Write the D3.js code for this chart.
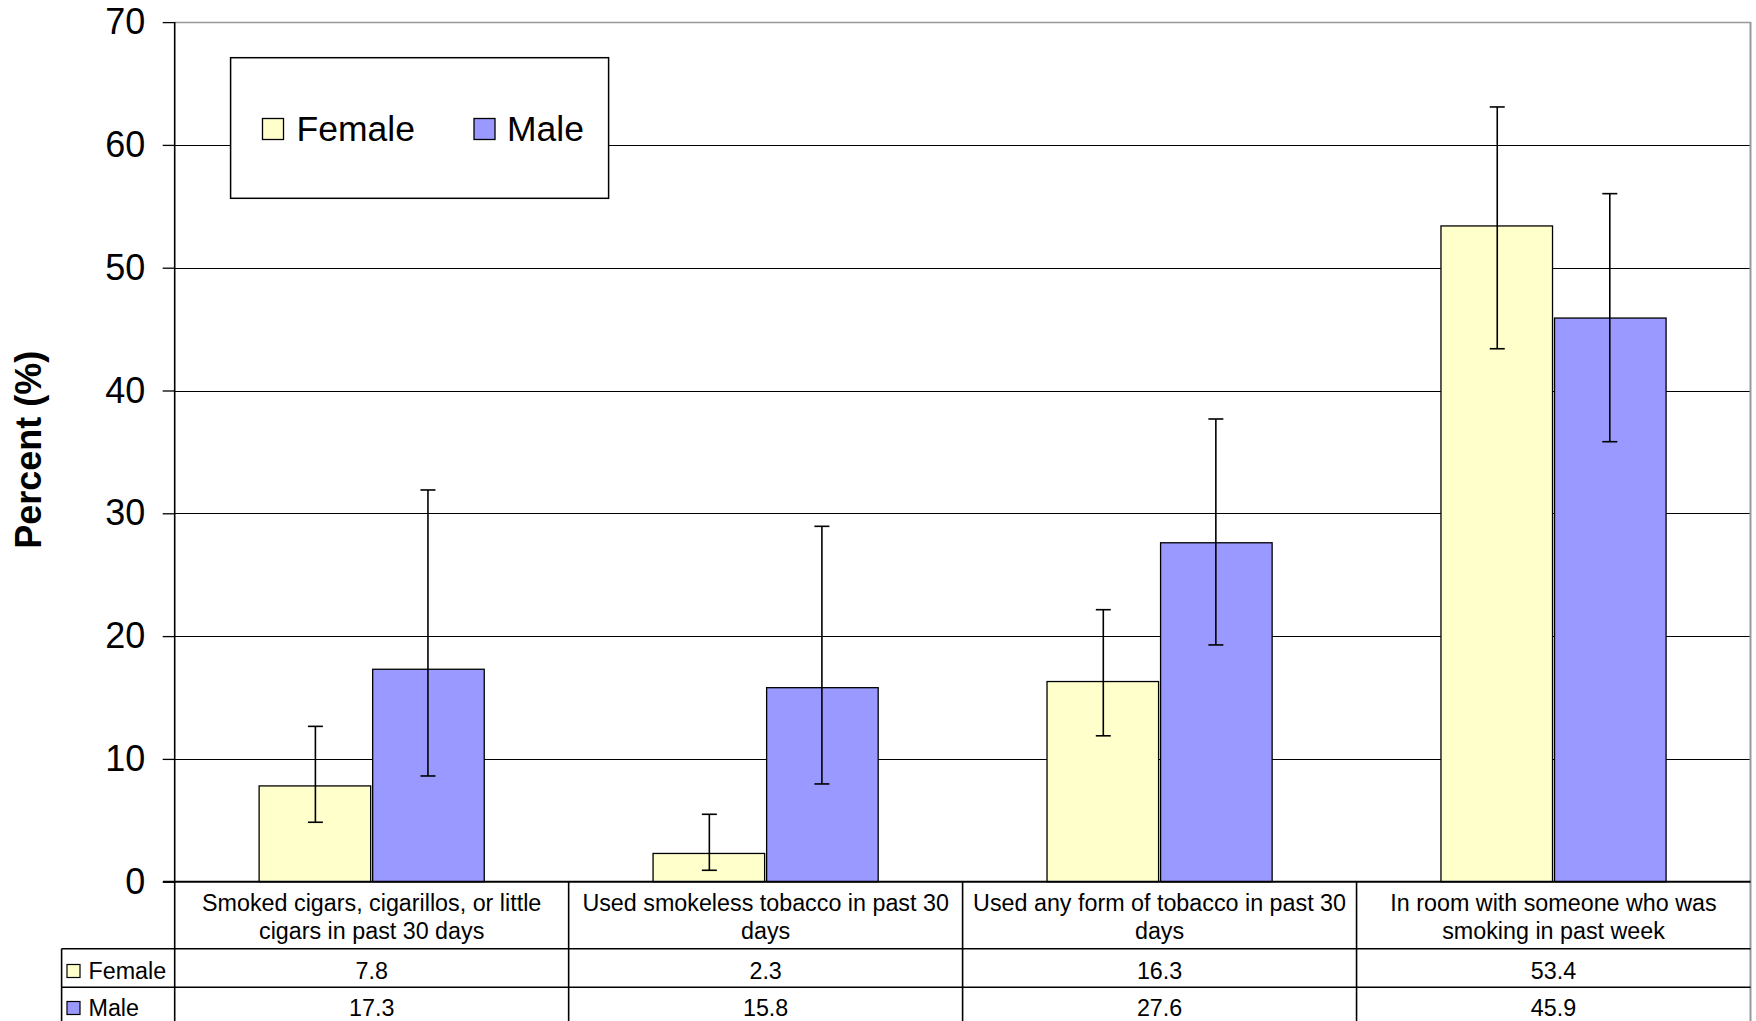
<!DOCTYPE html>
<html>
<head>
<meta charset="utf-8">
<script src="https://cdn.jsdelivr.net/npm/d3@7"></script>
<style>
  html, body { margin: 0; padding: 0; background: #fff; }
  svg { display: block; }
  text { font-family: "Liberation Sans", Arial, sans-serif; fill: #000; }
</style>
</head>
<body>
<svg id="chart" width="1756" height="1021"></svg>
<script>
// ---------- data ----------
const categories = [
  "Smoked cigars, cigarillos, or little cigars in past 30 days",
  "Used smokeless tobacco in past 30 days",
  "Used any form of tobacco in past 30 days",
  "In room with someone who was smoking in past week"
];
const categoryLines = [
  ["Smoked cigars, cigarillos, or little", "cigars in past 30 days"],
  ["Used smokeless tobacco in past 30", "days"],
  ["Used any form of tobacco in past 30", "days"],
  ["In room with someone who was", "smoking in past week"]
];
const seriesNames = ["Female", "Male"];
const femaleValues = [7.8, 2.3, 16.3, 53.4];
const maleValues = [17.3, 15.8, 27.6, 45.9];
const femaleUpper = [12.65, 5.49, 22.15, 63.09];
const femaleLower = [4.84, 0.93, 11.88, 43.4];
const maleUpper = [31.9, 28.94, 37.68, 56.03];
const maleLower = [8.61, 7.96, 19.28, 35.83];
const yTicks = [0, 10, 20, 30, 40, 50, 60, 70];
const yTitle = "Percent (%)";

// ---------- layout ----------
const colors = { Female: "#FFFFCC", Male: "#9999FF" };
const plotLeft = 174.7, plotRight = 1750.5, plotTop = 22.1, plotBottom = 881.7;
const tableLeft = 61.6;
const labelRowBottom = 948.7, femaleRowBottom = 987.3, maleRowBottom = 1026;

const svg = d3.select("#chart");

const y = d3.scaleLinear().domain([0, 70]).range([plotBottom, plotTop]);
const x0 = d3.scaleBand().domain(categories).range([plotLeft, plotRight]).padding(0);
const barW = x0.bandwidth() / 3.5;
const x1 = d3.scaleBand().domain(seriesNames).range([0, 2 * barW]).padding(0);

const rows = categories.map((c, i) => ({
  cat: c, i,
  vals: [
    { s: "Female", v: femaleValues[i], lo: femaleLower[i], hi: femaleUpper[i] },
    { s: "Male", v: maleValues[i], lo: maleLower[i], hi: maleUpper[i] }
  ]
}));

// gridlines
svg.append("g").selectAll("line")
  .data(yTicks.filter(t => t > 0))
  .join("line")
  .attr("x1", plotLeft).attr("x2", plotRight)
  .attr("y1", d => Math.round(y(d)) + 0.5).attr("y2", d => Math.round(y(d)) + 0.5)
  .attr("stroke", d => d === 70 ? "#999" : "#000")
  .attr("stroke-width", d => d === 70 ? 1.5 : 1.2);

// right border of plot + table
svg.append("line")
  .attr("x1", plotRight).attr("x2", plotRight)
  .attr("y1", plotTop).attr("y2", 1021)
  .attr("stroke", "#999").attr("stroke-width", 2);

// bars
const gCat = svg.append("g").selectAll("g")
  .data(rows).join("g")
  .attr("transform", d => `translate(${x0(d.cat) + x0.bandwidth() / 2 - barW},0)`);

gCat.selectAll("rect")
  .data(d => d.vals).join("rect")
  .attr("x", d => x1(d.s) + (d.s === "Female" ? 0 : 1))
  .attr("width", barW - 1)
  .attr("y", d => y(d.v))
  .attr("height", d => y(0) - y(d.v))
  .attr("fill", d => colors[d.s])
  .attr("stroke", "#000").attr("stroke-width", 1.3);

// error bars
const eb = gCat.selectAll("g.eb")
  .data(d => d.vals).join("g").attr("class", "eb")
  .attr("transform", d => `translate(${x1(d.s) + barW / 2},0)`);
eb.append("line").attr("x1", 0).attr("x2", 0)
  .attr("y1", d => y(d.hi)).attr("y2", d => y(d.lo))
  .attr("stroke", "#000").attr("stroke-width", 1.6);
eb.append("line").attr("x1", -7.5).attr("x2", 7.5)
  .attr("y1", d => y(d.hi)).attr("y2", d => y(d.hi))
  .attr("stroke", "#000").attr("stroke-width", 1.6);
eb.append("line").attr("x1", -7.5).attr("x2", 7.5)
  .attr("y1", d => y(d.lo)).attr("y2", d => y(d.lo))
  .attr("stroke", "#000").attr("stroke-width", 1.6);

// y axis
const yAxis = svg.append("g")
  .attr("transform", `translate(${plotLeft},0)`)
  .call(d3.axisLeft(y).tickValues(yTicks).tickSize(12).tickPadding(17.5).tickFormat(d3.format("d")));
yAxis.select(".domain").attr("stroke", "#000").attr("stroke-width", 1.6)
  .attr("d", `M0,${plotTop}V${plotBottom}`);
yAxis.selectAll(".tick line").attr("stroke", "#000").attr("stroke-width", 1.3);
yAxis.selectAll(".tick text")
  .style("font-family", "'Liberation Sans', Arial, sans-serif")
  .style("font-size", "36px").attr("fill", "#000");

// y title
svg.append("text")
  .attr("transform", `translate(41,449.7) rotate(-90)`)
  .attr("text-anchor", "middle")
  .style("font-size", "36px").style("font-weight", "bold")
  .text(yTitle);

// ---------- data table ----------
const tbl = svg.append("g");
const lineCol = "#000";
tbl.append("line").attr("x1", 163).attr("x2", plotRight)
  .attr("y1", plotBottom).attr("y2", plotBottom)
  .attr("stroke", lineCol).attr("stroke-width", 2);
[labelRowBottom, femaleRowBottom].forEach(yy => {
  tbl.append("line").attr("x1", tableLeft).attr("x2", plotRight)
    .attr("y1", yy).attr("y2", yy).attr("stroke", lineCol).attr("stroke-width", 1.6);
});
tbl.append("line").attr("x1", tableLeft).attr("x2", tableLeft)
  .attr("y1", labelRowBottom).attr("y2", 1021).attr("stroke", lineCol).attr("stroke-width", 1.6);
tbl.append("line").attr("x1", plotLeft).attr("x2", plotLeft)
  .attr("y1", plotBottom).attr("y2", 1021).attr("stroke", lineCol).attr("stroke-width", 1.6);
tbl.selectAll("line.div").data(categories.slice(1)).join("line").attr("class", "div")
  .attr("x1", d => x0(d)).attr("x2", d => x0(d))
  .attr("y1", plotBottom).attr("y2", 1021)
  .attr("stroke", lineCol).attr("stroke-width", 1.6);

// category labels
const catLabel = tbl.selectAll("text.cat").data(rows).join("text").attr("class", "cat")
  .attr("text-anchor", "middle")
  .style("font-size", "23.3px");
catLabel.selectAll("tspan").data(d => categoryLines[d.i].map(l => ({ l, c: d.cat })))
  .join("tspan")
  .attr("x", d => x0(d.c) + x0.bandwidth() / 2)
  .attr("y", (d, j) => 910.5 + j * 28.3)
  .text(d => d.l);

// value rows
const rowInfo = [
  { s: "Female", vals: femaleValues, cy: 971 },
  { s: "Male", vals: maleValues, cy: 1008 }
];
rowInfo.forEach(r => {
  tbl.append("rect").attr("x", 67).attr("y", r.cy - 6.5).attr("width", 13).attr("height", 13)
    .attr("fill", colors[r.s]).attr("stroke", "#000").attr("stroke-width", 1.2);
  tbl.append("text").attr("x", 88.5).attr("y", r.cy + 8.3)
    .style("font-size", "23.3px").text(r.s);
  tbl.selectAll(null).data(r.vals.map((v, i) => ({ v, c: categories[i] }))).join("text")
    .attr("x", d => x0(d.c) + x0.bandwidth() / 2)
    .attr("y", r.cy + 8.3)
    .attr("text-anchor", "middle")
    .style("font-size", "23.3px")
    .text(d => d3.format(".1f")(d.v));
});

// ---------- legend ----------
const lg = svg.append("g");
lg.append("rect").attr("x", 230.6).attr("y", 57.7).attr("width", 378).attr("height", 140.6)
  .attr("fill", "#fff").attr("stroke", "#000").attr("stroke-width", 1.5);
const legendPos = [{ s: "Female", sx: 262.5, tx: 296.5 }, { s: "Male", sx: 474, tx: 507 }];
legendPos.forEach(p => {
  lg.append("rect").attr("x", p.sx).attr("y", 118.5).attr("width", 21).attr("height", 21)
    .attr("fill", colors[p.s]).attr("stroke", "#000").attr("stroke-width", 1.3);
  lg.append("text").attr("x", p.tx).attr("y", 140.5)
    .style("font-size", "35.5px").text(p.s);
});
</script>
</body>
</html>
